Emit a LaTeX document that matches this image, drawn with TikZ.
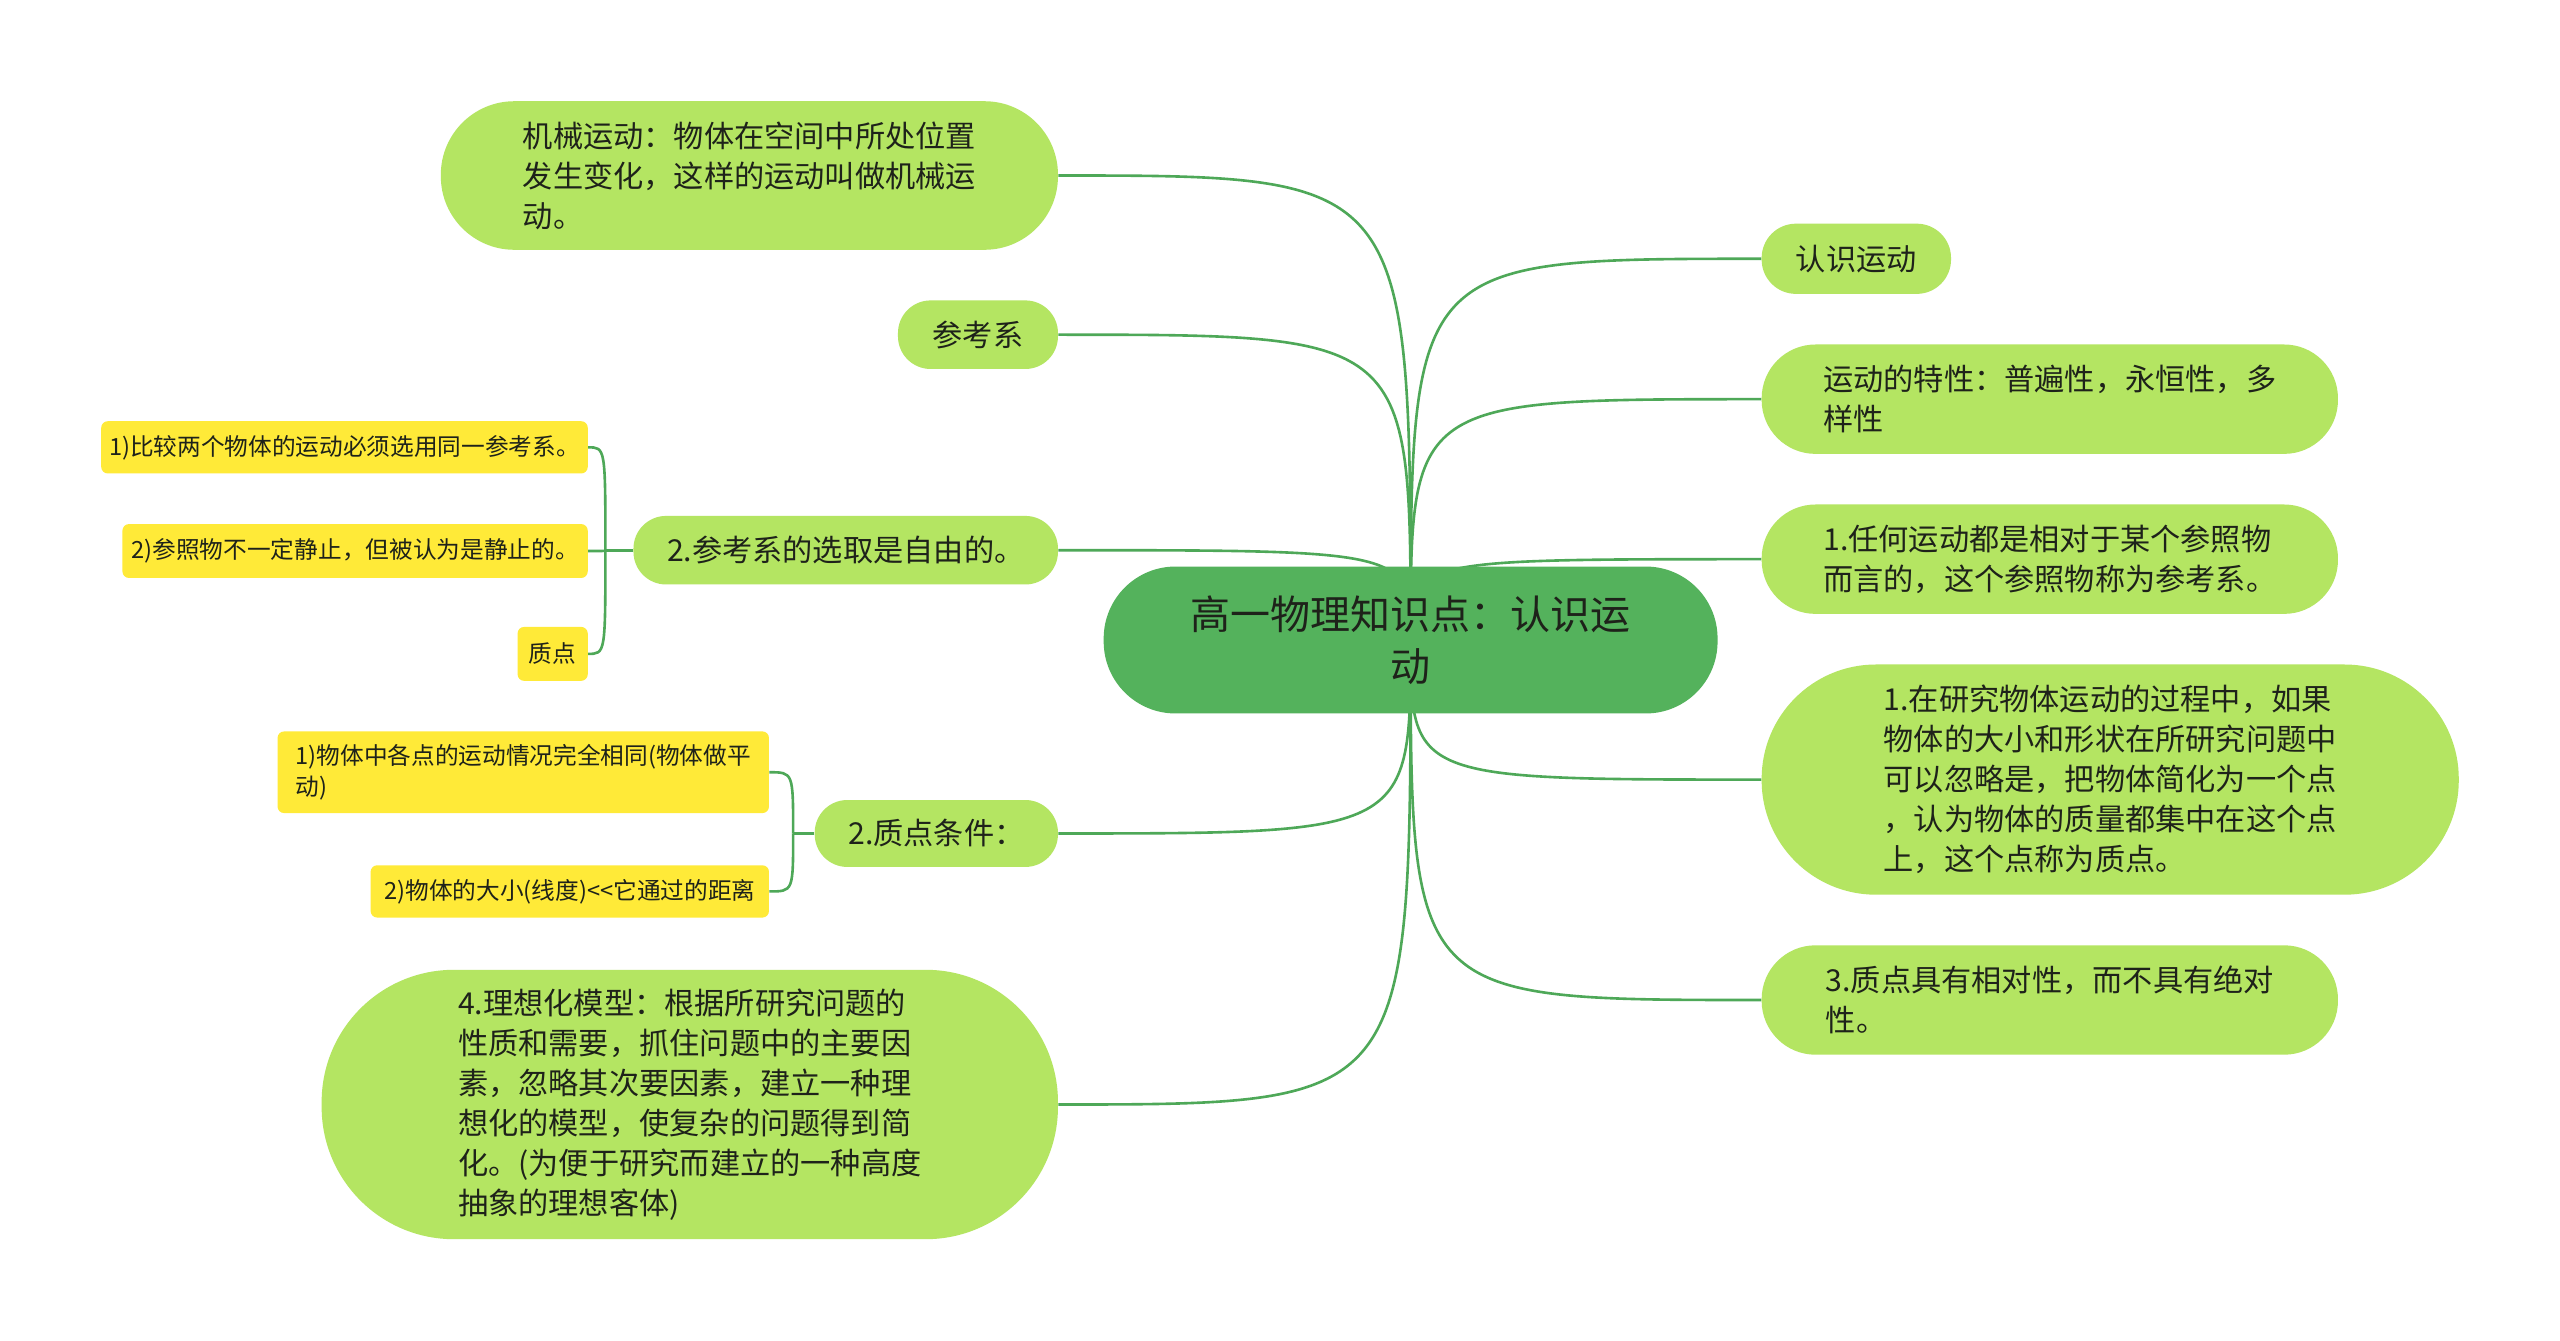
\documentclass[tikz,border=0pt]{standalone}
\usepackage{fontspec}
\setmainfont{Noto Sans CJK SC}
\usetikzlibrary{backgrounds}

\definecolor{moss}{RGB}{84,178,92}
\definecolor{leaf}{RGB}{180,229,98}
\definecolor{lemon}{RGB}{255,234,56}
\definecolor{stem}{RGB}{78,168,88}
\definecolor{ink}{RGB}{30,34,26}

\tikzset{
	root/.style={fill=moss, text=ink, inner sep=0pt, align=center, font=\fontsize{24.5}{32}\selectfont},
	topic/.style={fill=leaf, text=ink, inner sep=0pt, align=left, font=\fontsize{18.5}{24.5}\selectfont},
	note/.style={fill=lemon, text=ink, inner sep=0pt, align=left, rounded corners=4, font=\fontsize{14.5}{19}\selectfont},
	link/.style={draw=stem, line width=1.6}
}

\begin{document}
\begin{tikzpicture}[x=1pt, y=-1pt]
		\useasboundingbox (0,0) rectangle (1568,821);

		% central topic
		\node[root, minimum width=376, minimum height=90, rounded corners=44] (main) at (864,392) {高一物理知识点：认识运\\动};

		% right side
		\node[topic, minimum width=116, minimum height=43, rounded corners=21] (know) at (1137,158.5) {认识运动};
		\node[topic, minimum width=353, minimum height=67, rounded corners=33] (trait) at (1255.5,244.5) {运动的特性：普遍性，永恒性，多\\样性};
		\node[topic, minimum width=353, minimum height=67, rounded corners=33] (relref) at (1255.5,342.5) {1.任何运动都是相对于某个参照物\\而言的，这个参照物称为参考系。};
		\node[topic, minimum width=427, minimum height=141, rounded corners=70] (point) at (1292.5,477.5) {1.在研究物体运动的过程中，如果\\物体的大小和形状在所研究问题中\\可以忽略是，把物体简化为一个点\\，认为物体的质量都集中在这个点\\上，这个点称为质点。};
		\node[topic, minimum width=353, minimum height=67, rounded corners=33] (relpoint) at (1255.5,612.5) {3.质点具有相对性，而不具有绝对\\性。};

		% left side
		\node[topic, minimum width=378, minimum height=91, rounded corners=45] (mech) at (459,107.5) {机械运动：物体在空间中所处位置\\发生变化，这样的运动叫做机械运\\动。};
		\node[topic, minimum width=98, minimum height=42, rounded corners=20] (frame) at (599,205) {参考系};
		\node[topic, minimum width=260, minimum height=42, rounded corners=20] (choice) at (518,337) {2.参考系的选取是自由的。};
		\node[topic, minimum width=149, minimum height=41, rounded corners=20] (cond) at (573.5,510.5) {2.质点条件：};
		\node[topic, minimum width=451, minimum height=165, rounded corners=81] (ideal) at (422.5,676.5) {4.理想化模型：根据所研究问题的\\性质和需要，抓住问题中的主要因\\素，忽略其次要因素，建立一种理\\想化的模型，使复杂的问题得到简\\化。(为便于研究而建立的一种高度\\抽象的理想客体)};

		% notes
		\node[note, minimum width=298, minimum height=32] (cmp) at (211,274) {1)比较两个物体的运动必须选用同一参考系。};
		\node[note, minimum width=285, minimum height=33] (still) at (217.5,337.5) {2)参照物不一定静止，但被认为是静止的。};
		\node[note, minimum width=43, minimum height=33] (dot) at (338.5,400.5) {质点};
		\node[note, minimum width=301, minimum height=50] (same) at (320.5,473) {1)物体中各点的运动情况完全相同(物体做平\\动)};
		\node[note, minimum width=244, minimum height=32] (size) at (349,546) {2)物体的大小(线度)<{}<它通过的距离};

		% connectors
		\begin{scope}[on background layer]
			\fill[white] (0,0) rectangle (1568,821);
			\foreach \kid in {know,trait,relref,point,relpoint}
				\draw[link] (main.center) .. controls (main.center |- \kid.west) .. (\kid.west);
			\foreach \kid in {mech,frame,choice,cond,ideal}
				\draw[link] (main.center) .. controls (main.center |- \kid.east) .. (\kid.east);
			\coordinate (cj) at ([xshift=-17]choice.west);
			\draw[link] (choice.west) -- (cj);
			\foreach \kid in {cmp,still,dot}
				\draw[link] (cj) .. controls (cj |- \kid.east) .. (\kid.east);
			\coordinate (dj) at ([xshift=-13]cond.west);
			\draw[link] (cond.west) -- (dj);
			\foreach \kid in {same,size}
				\draw[link] (dj) .. controls (dj |- \kid.east) .. (\kid.east);
		\end{scope}
\end{tikzpicture}
\end{document}
